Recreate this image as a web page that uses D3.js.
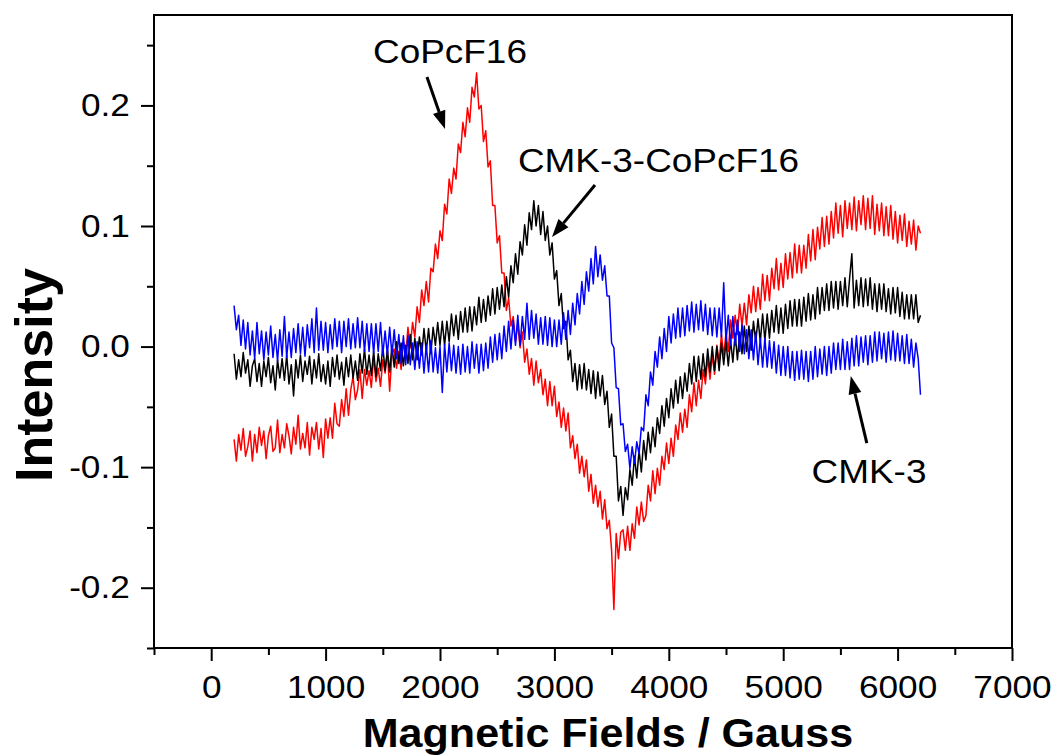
<!DOCTYPE html>
<html>
<head>
<meta charset="utf-8">
<script src="https://cdn.jsdelivr.net/npm/d3@7"></script>
<style>
  body { margin: 0; background: #fff; }
  svg text { font-family: Arial, "Liberation Sans", sans-serif; fill: #000; }
</style>
</head>
<body>
<svg id="chart" width="1057" height="756"></svg>
<script>
// EPR spectra: field sweep 200–6200 G, one reading every 20 G
const fieldStart = 200;
const fieldStep = 20;

const coPcF16 = [
  -0.077,-0.095,-0.073,-0.086,-0.068,-0.091,-0.083,-0.070,-0.095,-0.073,
  -0.088,-0.067,-0.082,-0.070,-0.093,-0.074,-0.066,-0.087,-0.084,-0.061,
  -0.088,-0.073,-0.084,-0.064,-0.074,-0.089,-0.067,-0.081,-0.057,-0.085,
  -0.072,-0.084,-0.063,-0.090,-0.067,-0.077,-0.063,-0.085,-0.068,-0.092,
  -0.060,-0.076,-0.059,-0.076,-0.047,-0.064,-0.066,-0.044,-0.058,-0.035,
  -0.057,-0.036,-0.025,-0.044,-0.036,-0.019,-0.043,-0.019,-0.032,-0.020,
  -0.034,-0.008,-0.029,-0.018,-0.033,-0.011,-0.022,-0.004,-0.037,-0.006,
  -0.002,-0.018,-0.004,-0.019,0.004,-0.008,0.016,-0.001,0.020,0.008,
  0.033,0.020,0.047,0.034,0.054,0.037,0.065,0.062,0.085,0.073,
  0.096,0.088,0.118,0.110,0.139,0.127,0.148,0.139,0.168,0.161,
  0.186,0.174,0.198,0.186,0.215,0.207,0.227,0.197,0.200,0.170,
  0.179,0.149,0.154,0.117,0.117,0.086,0.092,0.061,0.061,0.030,
  0.040,0.017,0.025,0.004,0.019,-0.001,0.012,-0.013,-0.002,-0.023,
  -0.010,-0.032,-0.012,-0.030,-0.019,-0.040,-0.027,-0.049,-0.029,-0.049,
  -0.033,-0.058,-0.046,-0.067,-0.051,-0.070,-0.055,-0.084,-0.074,-0.093,
  -0.081,-0.105,-0.091,-0.108,-0.094,-0.120,-0.106,-0.130,-0.115,-0.133,
  -0.120,-0.143,-0.127,-0.151,-0.144,-0.169,-0.218,-0.155,-0.176,-0.154,
  -0.152,-0.169,-0.149,-0.169,-0.147,-0.159,-0.133,-0.148,-0.129,-0.145,
  -0.140,-0.115,-0.128,-0.103,-0.122,-0.101,-0.115,-0.091,-0.102,-0.080,
  -0.097,-0.076,-0.091,-0.065,-0.077,-0.055,-0.071,-0.052,-0.067,-0.040,
  -0.054,-0.030,-0.049,-0.028,-0.043,-0.019,-0.031,-0.009,-0.027,-0.007,
  -0.023,0.001,-0.013,0.010,-0.007,0.011,-0.004,0.022,0.007,0.026,
  0.010,0.035,0.017,0.036,0.018,0.043,0.028,0.050,0.029,0.049,
  0.031,0.060,0.038,0.059,0.038,0.065,0.048,0.073,0.047,0.069,
  0.049,0.077,0.056,0.078,0.057,0.085,0.061,0.084,0.061,0.084,
  0.065,0.093,0.071,0.097,0.072,0.099,0.081,0.107,0.083,0.108,
  0.085,0.112,0.090,0.119,0.094,0.117,0.091,0.121,0.098,0.119,
  0.097,0.124,0.096,0.121,0.101,0.125,0.097,0.123,0.098,0.125,
  0.093,0.118,0.096,0.119,0.092,0.116,0.092,0.117,0.089,0.112,
  0.086,0.109,0.088,0.110,0.083,0.104,0.085,0.105,0.080,0.100,
  0.094
];

const cmk3CoPcF16 = [
  -0.006,-0.027,-0.011,-0.025,-0.005,-0.022,-0.011,-0.033,-0.016,-0.010,
  -0.029,-0.014,-0.033,-0.012,-0.025,-0.009,-0.030,-0.016,-0.036,-0.011,
  -0.026,-0.010,-0.028,-0.007,-0.031,-0.015,-0.041,-0.011,-0.026,-0.007,
  -0.029,-0.012,-0.023,-0.008,-0.031,-0.011,-0.026,-0.006,-0.029,-0.015,
  -0.031,-0.012,-0.033,-0.009,-0.025,-0.007,-0.027,-0.013,-0.032,-0.009,
  -0.025,-0.007,-0.026,-0.012,-0.028,-0.006,-0.022,-0.002,-0.023,-0.007,
  -0.024,-0.004,-0.025,-0.006,-0.020,0.000,-0.020,-0.003,-0.021,0.001,
  -0.017,0.004,-0.014,0.003,-0.016,0.001,-0.014,0.010,-0.011,0.007,
  -0.011,0.008,-0.007,0.015,-0.004,0.015,-0.006,0.016,0.001,0.020,
  0.001,0.021,0.001,0.021,0.004,0.027,0.009,0.026,0.006,0.029,
  0.012,0.032,0.012,0.033,0.013,0.033,0.018,0.041,0.020,0.039,
  0.021,0.042,0.026,0.048,0.027,0.049,0.031,0.051,0.033,0.058,
  0.041,0.067,0.053,0.077,0.060,0.087,0.076,0.101,0.084,0.111,
  0.097,0.121,0.100,0.117,0.093,0.112,0.088,0.100,0.076,0.086,
  0.056,0.063,0.034,0.044,0.015,0.021,-0.011,-0.003,-0.029,-0.014,
  -0.036,-0.015,-0.035,-0.014,-0.036,-0.019,-0.039,-0.020,-0.043,-0.021,
  -0.041,-0.024,-0.048,-0.037,-0.067,-0.056,-0.091,-0.091,-0.128,-0.116,
  -0.140,-0.117,-0.127,-0.102,-0.115,-0.091,-0.109,-0.086,-0.104,-0.078,
  -0.094,-0.071,-0.088,-0.067,-0.083,-0.059,-0.072,-0.049,-0.066,-0.043,
  -0.059,-0.035,-0.051,-0.028,-0.047,-0.025,-0.043,-0.022,-0.037,-0.014,
  -0.031,-0.008,-0.029,-0.008,-0.027,-0.006,-0.025,-0.002,-0.021,0.000,
  -0.020,0.000,-0.020,0.003,-0.015,0.004,-0.016,0.005,-0.013,0.011,
  -0.011,0.012,-0.006,0.017,-0.004,0.017,-0.003,0.021,0.004,0.023,
  0.004,0.027,0.005,0.027,0.007,0.030,0.012,0.034,0.011,0.032,
  0.011,0.035,0.015,0.038,0.017,0.039,0.017,0.039,0.017,0.041,
  0.021,0.044,0.022,0.043,0.023,0.049,0.027,0.049,0.030,0.052,
  0.030,0.054,0.032,0.054,0.031,0.054,0.034,0.057,0.033,0.056,
  0.077,0.032,0.055,0.034,0.057,0.033,0.056,0.034,0.057,0.031,
  0.052,0.029,0.052,0.031,0.052,0.029,0.048,0.027,0.049,0.028,
  0.049,0.025,0.045,0.023,0.043,0.023,0.043,0.023,0.043,0.020,
  0.026
];

const cmk3 = [
  0.034,0.014,0.026,0.001,0.022,-0.002,0.020,-0.007,0.013,-0.010,
  0.020,-0.006,0.013,-0.011,0.012,-0.007,0.017,-0.009,0.010,-0.012,
  0.014,-0.008,0.025,-0.009,0.012,-0.009,0.015,-0.005,0.019,-0.006,
  0.016,-0.008,0.018,-0.001,0.023,-0.005,0.032,-0.003,0.021,-0.003,
  0.020,-0.005,0.018,-0.002,0.023,0.000,0.021,-0.005,0.021,0.000,
  0.023,-0.002,0.019,-0.001,0.024,-0.001,0.021,-0.004,0.019,-0.004,
  0.019,-0.006,0.019,-0.004,0.020,-0.007,0.013,-0.007,0.016,-0.007,
  0.014,-0.010,0.010,-0.014,0.009,-0.015,0.009,-0.015,0.003,-0.019,
  0.004,-0.018,0.003,-0.022,0.001,-0.021,0.005,-0.021,-0.001,-0.022,
  0.000,-0.038,0.002,-0.021,0.003,-0.020,0.001,-0.022,0.000,-0.023,
  0.002,-0.021,0.000,-0.022,0.004,-0.018,0.002,-0.022,0.002,-0.020,
  0.003,-0.018,0.008,-0.013,0.010,-0.011,0.011,-0.010,0.017,-0.004,
  0.021,-0.002,0.022,0.001,0.026,0.001,0.025,0.006,0.036,0.006,
  0.030,0.007,0.027,0.002,0.024,0.002,0.025,0.001,0.024,0.000,
  0.022,0.000,0.022,0.002,0.028,0.006,0.030,0.010,0.036,0.018,
  0.044,0.027,0.054,0.035,0.062,0.046,0.073,0.052,0.083,0.058,
  0.076,0.055,0.067,0.042,0.042,0.003,-0.001,-0.034,-0.035,-0.065,
  -0.064,-0.087,-0.081,-0.101,-0.083,-0.097,-0.079,-0.089,-0.067,-0.070,
  -0.040,-0.049,-0.021,-0.032,-0.004,-0.017,0.008,-0.010,0.015,-0.004,
  0.025,0.003,0.027,0.007,0.032,0.008,0.032,0.009,0.034,0.013,
  0.037,0.012,0.035,0.014,0.038,0.013,0.035,0.010,0.032,0.009,
  0.032,0.008,0.032,0.008,0.053,0.004,0.026,0.001,0.025,0.001,
  0.022,-0.004,0.018,-0.006,0.014,-0.010,0.014,-0.011,0.012,-0.015,
  0.007,-0.017,0.007,-0.017,0.005,-0.018,0.004,-0.022,0.001,-0.024,
  0.000,-0.024,0.000,-0.026,-0.004,-0.028,-0.004,-0.027,-0.003,-0.027,
  -0.004,-0.029,-0.004,-0.027,0.000,-0.025,-0.002,-0.023,0.000,-0.024,
  0.000,-0.022,0.003,-0.019,0.003,-0.019,0.006,-0.019,0.004,-0.019,
  0.007,-0.016,0.009,-0.016,0.008,-0.013,0.009,-0.015,0.009,-0.013,
  0.012,-0.012,0.012,-0.010,0.011,-0.013,0.012,-0.011,0.013,-0.012,
  0.011,-0.012,0.009,-0.014,0.010,-0.014,0.006,-0.017,0.003,-0.010,
  -0.040
];

const seriesNames = ["CoPcF16", "CMK-3-CoPcF16", "CMK-3"];
const seriesColors = ["#ff0000", "#000000", "#0000ff"];

const xMajorTicks = [0, 1000, 2000, 3000, 4000, 5000, 6000, 7000];
const xMinorTicks = [-500, 500, 1500, 2500, 3500, 4500, 5500, 6500];
const yMajorTicks = [-0.2, -0.1, 0.0, 0.1, 0.2];
const yMinorTicks = [-0.25, -0.15, -0.05, 0.05, 0.15, 0.25];

// Callouts: label anchor and arrow tail/tip, in field (G) / intensity units
const callouts = [
  { text: "CoPcF16",       label: [2087, 0.235],   tail: [1886, 0.2236], tip: [2044, 0.1805] },
  { text: "CMK-3-CoPcF16", label: [3910, 0.1448],  tail: [3355, 0.134],  tip: [2979, 0.0909] },
  { text: "CMK-3",         label: [5750, -0.1132], tail: [5731, -0.080], tip: [5591, -0.0244] }
];

const svg = d3.select("#chart");
const plot = { left: 154, right: 1012, top: 15, bottom: 648 };

const x = d3.scaleLinear().domain([-500, 7000]).range([plot.left, plot.right]);
const y = d3.scaleLinear().domain([-0.25, 0.275]).range([plot.bottom, plot.top]);

const stretch = "scale(1.1,1)";

// spectra
const fields = coPcF16.map((_, i) => fieldStart + i * fieldStep);
const allSeries = [coPcF16, cmk3CoPcF16, cmk3];
const line = d3.line()
  .x((d, i) => x(fields[i]))
  .y(d => y(d));

const curves = svg.append("g").attr("class", "curves");
allSeries.forEach((vals, k) => {
  curves.append("path")
    .datum(vals)
    .attr("d", line)
    .attr("fill", "none")
    .attr("stroke", seriesColors[k])
    .attr("stroke-width", 1.5)
    .attr("stroke-linejoin", "round")
    .attr("aria-label", seriesNames[k]);
});

// frame
svg.append("rect")
  .attr("x", plot.left).attr("y", plot.top)
  .attr("width", plot.right - plot.left).attr("height", plot.bottom - plot.top)
  .attr("fill", "none").attr("stroke", "#000").attr("stroke-width", 2);

// axes
function styleAxis(g) {
  g.select(".domain").remove();
  g.selectAll(".tick line").attr("stroke", "#000").attr("stroke-width", 2);
}

const xAxis = svg.append("g")
  .attr("transform", `translate(0,${plot.bottom})`)
  .call(d3.axisBottom(x).tickValues(xMajorTicks).tickSize(13).tickSizeOuter(0)
    .tickPadding(14).tickFormat(d3.format("d")))
  .call(styleAxis);
xAxis.selectAll(".tick text")
  .attr("font-size", 32).attr("font-family", "Arial, 'Liberation Sans', sans-serif")
  .attr("transform", stretch);

svg.append("g")
  .attr("transform", `translate(0,${plot.bottom})`)
  .call(d3.axisBottom(x).tickValues(xMinorTicks).tickSize(7).tickSizeOuter(0).tickFormat(""))
  .call(styleAxis);

const yAxis = svg.append("g")
  .attr("transform", `translate(${plot.left},0)`)
  .call(d3.axisLeft(y).tickValues(yMajorTicks).tickSize(13).tickSizeOuter(0)
    .tickPadding(9).tickFormat(d => d.toFixed(1)))
  .call(styleAxis);
yAxis.selectAll(".tick text")
  .attr("font-size", 32).attr("font-family", "Arial, 'Liberation Sans', sans-serif")
  .attr("transform", stretch);

svg.append("g")
  .attr("transform", `translate(${plot.left},0)`)
  .call(d3.axisLeft(y).tickValues(yMinorTicks).tickSize(7).tickSizeOuter(0).tickFormat(""))
  .call(styleAxis);

// axis titles
svg.append("g")
  .attr("transform", "translate(608,747)")
  .append("text")
  .attr("text-anchor", "middle")
  .attr("font-size", 40).attr("font-weight", "bold")
  .attr("transform", "scale(1.077,1)")
  .text("Magnetic Fields / Gauss");

svg.append("text")
  .attr("transform", "translate(52,375) rotate(-90)")
  .attr("text-anchor", "middle")
  .attr("font-size", 52).attr("font-weight", "bold")
  .text("Intensity");

// callouts with arrows
const notes = svg.append("g").attr("class", "callouts");
callouts.forEach(c => {
  notes.append("g")
    .attr("transform", `translate(${x(c.label[0])},${y(c.label[1])})`)
    .append("text")
    .attr("text-anchor", "middle")
    .attr("font-size", 33)
    .attr("transform", "scale(1.12,1)")
    .text(c.text);

  const x0 = x(c.tail[0]), y0 = y(c.tail[1]);
  const x1 = x(c.tip[0]),  y1 = y(c.tip[1]);
  const ang = Math.atan2(y1 - y0, x1 - x0);
  const headLen = 18, headHalf = 6.5;
  const bx = x1 - headLen * Math.cos(ang), by = y1 - headLen * Math.sin(ang);
  notes.append("line")
    .attr("x1", x0).attr("y1", y0).attr("x2", bx).attr("y2", by)
    .attr("stroke", "#000").attr("stroke-width", 3);
  const px = -Math.sin(ang) * headHalf, py = Math.cos(ang) * headHalf;
  notes.append("path")
    .attr("d", `M${x1},${y1}L${bx + px},${by + py}L${bx - px},${by - py}Z`)
    .attr("fill", "#000");
});
</script>
</body>
</html>
